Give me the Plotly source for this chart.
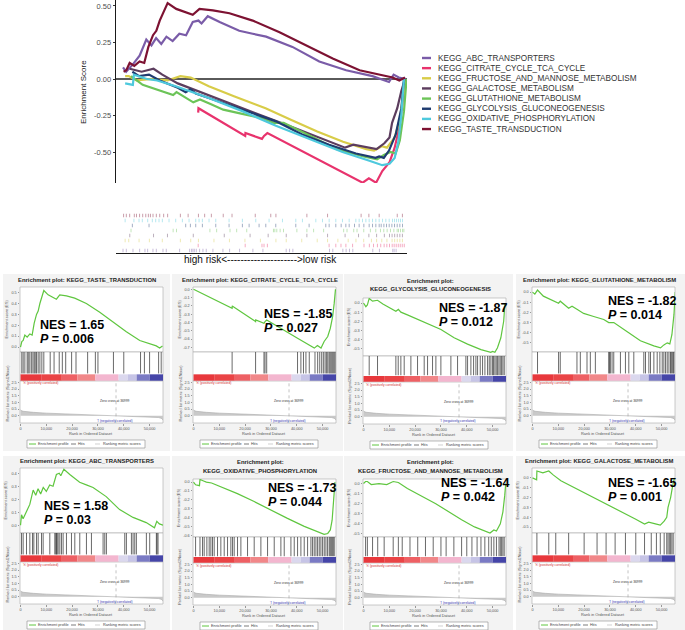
import plotly.graph_objects as go

W, H = 685, 630
FONT = "Liberation Sans, Arial, Helvetica, sans-serif"


def PX(x):
    return x / W


def PY(y):
    return 1 - y / H


# ---------------- data ----------------
pathways = ["KEGG_ABC_TRANSPORTERS", "KEGG_CITRATE_CYCLE_TCA_CYCLE",
            "KEGG_FRUCTOSE_AND_MANNOSE_METABOLISM", "KEGG_GALACTOSE_METABOLISM",
            "KEGG_GLUTATHIONE_METABOLISM", "KEGG_GLYCOLYSIS_GLUCONEOGENESIS",
            "KEGG_OXIDATIVE_PHOSPHORYLATION", "KEGG_TASTE_TRANSDUCTION"]
path_colors = ["#7a5ca8", "#e8336d", "#d8cc48", "#5c3d5e",
               "#6cc458", "#1f3c70", "#4ec9dd", "#7d1232"]

abc_rank = [0, 390, 1000, 2300, 3600, 4900, 5900, 6800, 7800, 8800, 10000, 11300, 12600, 13900, 15000,
            15600, 16800, 19100, 22900, 25500, 28100, 33200, 38400, 43600, 48700, 51900, 52800, 53800, 55200]
abc_es = [0, 0.08, 0.05, 0.10, 0.16, 0.27, 0.23, 0.28, 0.24, 0.29, 0.26, 0.31, 0.30, 0.39, 0.40,
          0.38, 0.43, 0.39, 0.33, 0.31, 0.29, 0.22, 0.12, 0.06, 0.02, -0.02, 0.03, 0.01, 0.0]
abc_hits = [390, 1030, 2320, 3610, 4640, 5160, 6190, 6840, 8130, 8770, 11350, 13290, 13670, 13930, 14190,
            14580, 15220, 15870, 16510, 17800, 19740, 21030, 22960, 25540, 27480, 31990, 32640, 33280,
            40380, 41020, 42960, 43600, 44250, 44890, 48760, 50050, 52630, 52890, 53280]

citrate_rank = [0, 14950, 15000, 24050, 24100, 27300, 27700, 28350, 40300, 45500, 46800, 48000, 49400,
                50600, 52000, 53000, 53900, 54500, 55000]
citrate_es = [0, -0.23, -0.20, -0.39, -0.37, -0.41, -0.39, -0.37, -0.59, -0.69, -0.71, -0.68, -0.71,
              -0.63, -0.57, -0.47, -0.33, -0.17, 0.0]
citrate_hits = [14950, 24050, 27300, 27700, 28350, 40300, 41600, 42600, 43550, 44850, 47060, 48100, 48900,
                49660, 50300, 50960, 51480, 52000, 52520, 52900, 53300, 53700, 54080, 54470, 54860]

fructose_rank = [0, 800, 1500, 3000, 6000, 9000, 11500, 13500, 17000, 22000, 28000, 33000, 38000, 43000,
                 47500, 49000, 50500, 51500, 53000, 54000, 54700, 55100]
fructose_es = [0, 0.02, 0.02, -0.01, 0.0, -0.01, 0.02, 0.01, -0.05, -0.12, -0.20, -0.28, -0.36, -0.43,
               -0.48, -0.49, -0.46, -0.47, -0.40, -0.28, -0.12, 0.0]
fructose_hits = [800, 1500, 3500, 5500, 8000, 11500, 13500, 15000, 18000, 21000, 24000, 27000, 30000, 32000,
                 35000, 38000, 40000, 42000, 44000, 45500, 47000, 48500, 49500, 50500, 51500, 52500, 53000,
                 53500, 54000, 54500]

galactose_rank = [0, 1600, 1700, 4000, 6300, 8000, 11000, 16300, 22000, 28000, 34000, 40000, 43400, 45000,
                  48000, 49500, 51000, 52000, 52500, 53500, 54300, 55000]
galactose_es = [0, -0.02, 0.07, 0.05, 0.07, 0.03, -0.03, -0.10, -0.18, -0.26, -0.34, -0.42, -0.47, -0.45,
                -0.47, -0.48, -0.44, -0.40, -0.30, -0.20, -0.08, 0.0]
galactose_hits = [1700, 6300, 9000, 14000, 20000, 25000, 28500, 32000, 36000, 40000, 43400, 46000, 48000,
                  49500, 51000, 52000, 52500, 53000, 53500, 54000, 54500]

glutathione_rank = [0, 900, 1940, 4200, 10100, 10750, 14000, 15300, 17220, 19800, 23700, 27600, 29530, 31500,
                    36700, 41800, 47000, 49600, 50900, 52200, 53200, 54000, 54800, 55300]
glutathione_es = [0, -0.02, 0.02, -0.04, -0.11, -0.09, -0.16, -0.14, -0.17, -0.21, -0.24, -0.27, -0.30, -0.30,
                  -0.39, -0.48, -0.53, -0.55, -0.52, -0.50, -0.51, -0.42, -0.22, 0.0]
glutathione_hits = [1940, 10100, 10750, 17220, 18520, 21110, 22400, 24350, 29530, 29790, 30170, 30820, 31470,
                    34060, 36000, 37300, 39240, 43120, 43770, 45070, 45710, 47010, 48300, 49340, 50250, 50890,
                    51540, 52190, 52840, 53480, 53740, 54130, 54520, 54780]

glycolysis_rank = [0, 900, 1500, 2200, 3500, 5430, 7500, 11000, 12530, 13500, 14470, 17000, 21000, 26100,
                   30000, 35100, 40300, 45500, 48000, 49300, 50000, 50900, 51900, 53200, 54300, 54800]
glycolysis_es = [0, -0.04, -0.02, 0.05, 0.02, 0.03, -0.01, -0.06, -0.09, -0.07, -0.10, -0.13, -0.18, -0.24,
                 -0.29, -0.38, -0.45, -0.51, -0.53, -0.54, -0.53, -0.54, -0.49, -0.38, -0.20, 0.0]
glycolysis_hits = [2200, 5430, 12530, 13440, 14470, 15760, 18350, 20930, 23510, 24810, 26740, 28040, 29970,
                   33850, 36430, 39660, 40310, 41600, 42640, 43540, 44190, 45220, 46120, 47030, 48060, 48710,
                   49350, 50000, 50390, 50910, 51420, 51940, 52460, 52970, 53490, 54000, 54520]

oxphos_rank = [0, 800, 2300, 2500, 4130, 5000, 7000, 10600, 17000, 23500, 30000, 36400, 42900, 48100, 50600,
               52000, 53000, 53700, 54300, 54800]
oxphos_es = [0, -0.03, -0.04, 0.03, 0.01, 0.0, -0.01, -0.05, -0.13, -0.22, -0.32, -0.41, -0.50, -0.56, -0.59,
             -0.58, -0.54, -0.43, -0.24, 0.0]
oxphos_hits = [800, 2500, 3490, 4130, 5170, 6070, 6720, 7360, 8010, 9300, 10590, 11890, 13180, 14470, 15120,
               15760, 17050, 18350, 20930, 23510, 26100, 28680, 31270, 33850, 35140, 37730, 39020, 40310, 41600,
               42890, 44190, 45480, 46120, 46770, 47420, 48060, 48710, 49350, 50000, 50650, 51290, 51940, 52580,
               52970, 53360, 53750, 54130, 54520]

taste_rank = [0, 500, 1030, 1680, 2580, 3600, 4500, 5300, 6200, 6840, 7500, 8260, 9030, 10700, 12400, 13900,
              15200, 17800, 21000, 25500, 30700, 35900, 41000, 46200, 50000, 52600, 53900, 55000]
taste_es = [0, 0.05, 0.06, 0.11, 0.09, 0.12, 0.11, 0.22, 0.30, 0.33, 0.40, 0.46, 0.52, 0.48, 0.46, 0.44,
            0.48, 0.47, 0.45, 0.40, 0.32, 0.23, 0.14, 0.06, 0.03, 0.01, -0.01, 0.01]
taste_hits = [500, 1030, 1680, 2580, 3000, 3600, 4200, 4800, 5300, 5700, 6200, 6840, 7500, 8260, 9030, 11500,
              13000, 15000, 16200, 17500, 19800, 21500, 26000, 29000, 30000, 36000, 40000, 46500, 48000, 50000,
              53500, 54500]

nes_values = ["1.58", "-1.85", "-1.64", "-1.65", "-1.82", "-1.87", "-1.73", "1.65"]
p_values = ["0.03", "0.027", "0.042", "0.001", "0.014", "0.012", "0.044", "0.006"]

metric_rank = [0, 300, 1000, 2500, 5000, 10000, 15000, 20000, 25000, 30000, 36999, 42000, 47000, 51000,
               53500, 54800, 55300]
metric_val = [0.45, 0.38, 0.33, 0.29, 0.25, 0.19, 0.15, 0.11, 0.08, 0.045, 0.0, -0.03, -0.06, -0.10,
              -0.14, -0.22, -0.35]
zero_cross = 36999

colorbar_edges = [0, 8000, 16000, 22000, 29000, 38000, 41500, 45000, 50000, 55300]
colorbar_colors = ["#e8383c", "#ea4446", "#ee6064", "#f18789", "#f3b6cf", "#dbd8ee", "#c6c4e6",
                   "#7a7ac4", "#4545a8"]

rank_ticks = [0, 10000, 20000, 30000, 40000, 50000]
rank_tick_labels = ["0", "10,000", "20,000", "30,000", "40,000", "50,000"]
metric_ticks = [0, 0.5, 1.0, 1.5, 2.0, 2.5]
metric_tick_labels = ["0.0", "0.5", "1.0", "1.5", "2.0", "2.5"]
main_ticks = [-0.5, -0.25, 0.0, 0.25, 0.5]
main_tick_labels = ["-0.50", "-0.25", "0.00", "0.25", "0.50"]

es_ticks = [
    [0.0, 0.1, 0.2, 0.3, 0.4],
    [0.0, -0.1, -0.2, -0.3, -0.4, -0.5, -0.6, -0.7],
    [0.0, -0.1, -0.2, -0.3, -0.4, -0.5],
    [0.0, -0.1, -0.2, -0.3, -0.4, -0.5],
    [0.0, -0.1, -0.2, -0.3, -0.4, -0.5],
    [0.0, -0.1, -0.2, -0.3, -0.4, -0.5],
    [0.0, -0.1, -0.2, -0.3, -0.4, -0.5, -0.6],
    [0.0, 0.1, 0.2, 0.3, 0.4, 0.5],
]

curves = [(abc_rank, abc_es, abc_hits), (citrate_rank, citrate_es, citrate_hits),
          (fructose_rank, fructose_es, fructose_hits), (galactose_rank, galactose_es, galactose_hits),
          (glutathione_rank, glutathione_es, glutathione_hits),
          (glycolysis_rank, glycolysis_es, glycolysis_hits), (oxphos_rank, oxphos_es, oxphos_hits),
          (taste_rank, taste_es, taste_hits)]

# ---------------- styles / layout ----------------
es_ranges = [[-0.06, 0.44], [-0.757, 0.028], [-0.53, 0.045], [-0.56, 0.10],
             [-0.59, 0.05], [-0.58, 0.055], [-0.62, 0.035], [-0.046, 0.552]]
panel_order = [7, 1, 5, 4, 0, 6, 2, 3]
two_line = {5, 6, 2}
col_x0 = [20, 193, 363, 532]
PW = 143
nes_pos = [(39, 325), (263, 314), (438, 308), (607, 301), (43, 506), (267, 488), (440, 483), (607, 483)]
bg_cols = [(3, 170), (172, 343), (344, 513), (516, 685)]
bg_rows = [(274, 451), (456, 630)]

fig = go.Figure()
shapes, annos = [], []
lay = {}


def add_axes(n, xdom, ydom, xr, yr):
    sx = "" if n == 1 else str(n)
    lay["xaxis" + sx] = dict(domain=xdom, range=xr, anchor="y" + sx, showgrid=False, zeroline=False,
                             showline=False, showticklabels=False, ticks="", fixedrange=True)
    lay["yaxis" + sx] = dict(domain=ydom, range=yr, anchor="x" + sx, showgrid=False, zeroline=False,
                             showline=False, showticklabels=False, ticks="", fixedrange=True)
    return "x" + sx, "y" + sx, "xaxis" + sx, "yaxis" + sx


def txt(x, y, s, size, color="#222222", xanchor="center", yanchor="middle", angle=0):
    annos.append(dict(x=PX(x), y=PY(y), xref="paper", yref="paper", text=s, showarrow=False,
                      font=dict(size=size, color=color, family=FONT), xanchor=xanchor, yanchor=yanchor,
                      textangle=angle, borderpad=0))


def rect(x0, y0, x1, y1, fill, line="rgba(0,0,0,0)", lw=0):
    shapes.append(dict(type="rect", xref="paper", yref="paper", x0=PX(x0), x1=PX(x1), y0=PY(y1), y1=PY(y0),
                       fillcolor=fill, line=dict(color=line, width=lw), layer="below"))


def hline(x0, x1, y, color, lw):
    shapes.append(dict(type="line", xref="paper", yref="paper", x0=PX(x0), x1=PX(x1), y0=PY(y), y1=PY(y),
                       line=dict(color=color, width=lw), layer="above"))


# ---- main running-score panel ----
XR_MAIN = [-968, 55387]
xa, ya, xk, yk = add_axes(1, [PX(116), PX(407)], [PY(183), PY(0)], XR_MAIN, [-0.712, 0.541])
lay[yk].update(showline=True, linecolor="#1a1a1a", linewidth=1.3, zeroline=True, zerolinecolor="#5a5a5a",
               zerolinewidth=1.1, tickvals=main_ticks, ticktext=main_tick_labels, showticklabels=True,
               ticks="outside", ticklen=2, tickcolor="#333333",
               tickfont=dict(size=7.5, color="#4d4d4d", family=FONT))
for i, (r, e, h) in enumerate(curves):
    pts = [(x, y) for x, y in zip(r, e) if x >= h[0]]
    fig.add_trace(go.Scatter(x=[p[0] for p in pts], y=[p[1] for p in pts], mode="lines",
                             line=dict(color=path_colors[i], width=2.2), xaxis=xa, yaxis=ya,
                             hoverinfo="skip"))
txt(83, 92, "Enrichment Score", 8, "#222222", angle=-90)

# legend
for i, name in enumerate(pathways):
    yy = 58 + i * 10.15
    hline(422, 431, yy, path_colors[i], 2.4)
    txt(437, yy, name, 8.2, "#333333", xanchor="left")

# ---- rug of hits ----
xa2, ya2, xk2, yk2 = add_axes(2, [PX(116), PX(407)], [PY(253), PY(213)], XR_MAIN, [0, 8])
lay[xk2].update(showline=True, linecolor="#1a1a1a", linewidth=1.2)
for i, (r, e, h) in enumerate(curves):
    xs, ys = [], []
    for v in h:
        xs += [v, v, None]
        ys += [i + 0.15, i + 0.85, None]
    fig.add_trace(go.Scatter(x=xs, y=ys, mode="lines", line=dict(color=path_colors[i], width=0.9),
                             opacity=0.45, xaxis=xa2, yaxis=ya2, hoverinfo="skip"))
txt(260, 259, "high risk&lt;" + "-" * 21 + "&gt;low risk", 10, "#111111")

# ---- eight GSEA panels ----
for r_i, (by0, by1) in enumerate(bg_rows):
    for (bx0, bx1) in bg_cols:
        rect(bx0, by0, bx1, by1, "#f3f3f3")

for k, pi in enumerate(panel_order):
    row, col = divmod(k, 4)
    dy = row * 181
    x0 = col_x0[col]
    x1 = x0 + PW
    if pi in two_line:
        txt(x0 + 67, 281 + dy, "<b>Enrichment plot:</b>", 5.9, "#222222")
        txt(x0 + 67, 289.5 + dy, "<b>" + pathways[pi] + "</b>", 5.9, "#222222")
        es_top, es_bot, hits_bot, met_bot = 298, 356, 382, 424
    else:
        txt(x0 + 67, 280 + dy, "<b>Enrichment plot: " + pathways[pi] + "</b>", 5.9, "#222222")
        es_top, es_bot, hits_bot, met_bot = 287, 352, 381, 423
    es_top += dy
    es_bot += dy
    hits_bot += dy
    met_bot += dy
    XR = [-200, 55200]
    n = 3 + 3 * k
    ranks, es, hits = curves[pi]

    # plot-area frames
    for (t0, t1) in [(es_top, es_bot), (es_bot, hits_bot), (hits_bot, met_bot)]:
        rect(x0, t0, x1, t1, "#ffffff", "#a8a8a8", 0.6)

    # ES plot
    xa, ya, xk, yk = add_axes(n, [PX(x0), PX(x1)], [PY(es_bot), PY(es_top)], XR, es_ranges[pi])
    lay[yk].update(showticklabels=True, tickvals=es_ticks[pi],
                   ticktext=["%.1f" % abs(v) if v == 0 else "%.1f" % v for v in es_ticks[pi]],
                   ticks="outside", ticklen=1.5, tickcolor="#999999",
                   tickfont=dict(size=3.8, color="#555555", family=FONT))
    fig.add_trace(go.Scatter(x=ranks, y=es, mode="lines", line=dict(color="#5fc63f", width=1.2),
                             xaxis=xa, yaxis=ya, hoverinfo="skip"))

    # hits + colour bar
    xa, ya, xk, yk = add_axes(n + 1, [PX(x0), PX(x1)], [PY(hits_bot), PY(es_bot)], XR, [0, 1])
    xs, ys = [], []
    for v in hits:
        xs += [v, v, None]
        ys += [0.26, 1, None]
    fig.add_trace(go.Scatter(x=xs, y=ys, mode="lines", line=dict(color="#2a2a2a", width=0.7),
                             xaxis=xa, yaxis=ya, hoverinfo="skip"))
    for j in range(len(colorbar_colors)):
        shapes.append(dict(type="rect", xref=xa, yref=ya, x0=colorbar_edges[j], x1=colorbar_edges[j + 1],
                           y0=0.01, y1=0.23, fillcolor=colorbar_colors[j], line=dict(width=0),
                           layer="above"))

    # ranked metric
    xa, ya, xk, yk = add_axes(n + 2, [PX(x0), PX(x1)], [PY(met_bot), PY(hits_bot)], XR, [-0.55, 2.6])
    lay[xk].update(showticklabels=True, tickvals=rank_ticks, ticktext=rank_tick_labels, ticks="outside",
                   ticklen=1.5, tickcolor="#999999", tickfont=dict(size=3.8, color="#555555", family=FONT))
    lay[yk].update(showticklabels=True, tickvals=metric_ticks, ticktext=metric_tick_labels, ticks="outside",
                   ticklen=1.5, tickcolor="#999999", tickfont=dict(size=3.8, color="#555555", family=FONT))
    fig.add_trace(go.Scatter(x=metric_rank, y=metric_val, mode="lines", fill="tozeroy",
                             fillcolor="#c9c9c9", line=dict(color="#a9a9a9", width=0.6),
                             xaxis=xa, yaxis=ya, hoverinfo="skip"))
    shapes.append(dict(type="line", xref=xa, yref=ya, x0=zero_cross, x1=zero_cross, y0=-0.5, y1=2.55,
                       line=dict(color="#9a9a9a", width=0.6, dash="dot"), layer="above"))
    txt(x0 + 2, hits_bot + 2.5, "'h' (positively correlated)", 3.3, "#d03030", xanchor="left")
    txt(x0 + 95, hits_bot + 20, "Zero cross at 36999", 3.3, "#333333")
    txt(x0 + 95, met_bot - 2.5, "'l' (negatively correlated)", 3.3, "#3434b0")

    # axis titles
    txt(x0 - 14, (es_top + es_bot) / 2, "Enrichment score (ES)", 3.8, "#555555", angle=-90)
    txt(x0 - 13, (es_bot + met_bot) / 2 + 6, "Ranked list metric (Signal2Noise)", 3.8, "#555555", angle=-90)
    txt(x0 + 71, met_bot + 10.5, "Rank in Ordered Dataset", 3.9, "#555555")

    # NES / P
    nx, ny = nes_pos[k]
    txt(nx, ny, "<b>NES = " + nes_values[pi] + "</b>", 12.5, "#000000", xanchor="left")
    txt(nx, ny + 14, "<b><i>P</i> = " + p_values[pi] + "</b>", 12.5, "#000000", xanchor="left")

    # mini legend
    ly = met_bot + 21
    rect(x0 + 7, ly - 4, x0 + 125, ly + 4, "#ffffff", "#8a8a8a", 0.6)
    hline(x0 + 9, x0 + 16, ly, "#5fc63f", 1.0)
    txt(x0 + 17, ly, "Enrichment profile", 3.8, "#444444", xanchor="left")
    hline(x0 + 51, x0 + 56, ly, "#444444", 0.7)
    txt(x0 + 57, ly, "Hits", 3.8, "#444444", xanchor="left")
    hline(x0 + 75, x0 + 80, ly, "#bbbbbb", 0.7)
    txt(x0 + 82, ly, "Ranking metric scores", 3.8, "#444444", xanchor="left")

fig.update_layout(width=W, height=H, margin=dict(l=0, r=0, t=0, b=0), paper_bgcolor="#ffffff",
                  plot_bgcolor="rgba(0,0,0,0)", showlegend=False, shapes=shapes, annotations=annos,
                  font=dict(family=FONT), **lay)
fig.write_html("out.html", config={"displayModeBar": False, "staticPlot": True},
               post_script="document.body.style.margin='0px';document.body.style.overflow='hidden';")
